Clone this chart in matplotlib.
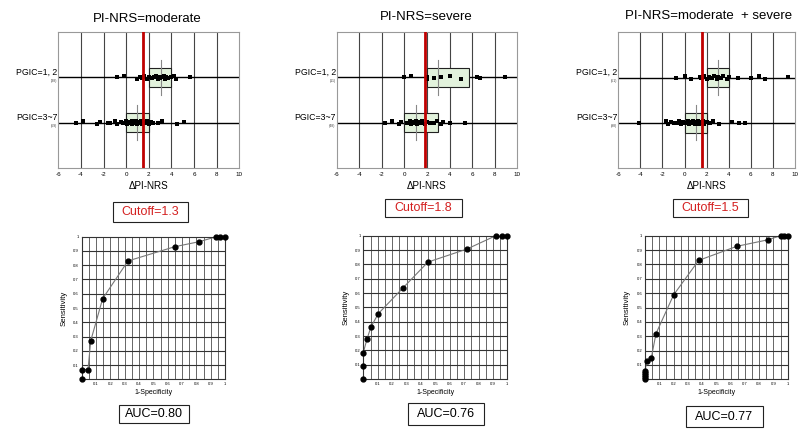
import numpy as np
import matplotlib
matplotlib.use("Agg")
import matplotlib.pyplot as plt
from matplotlib.patches import Rectangle

plt.rcParams["font.family"] = ["Liberation Sans", "DejaVu Sans"]
plt.rcParams["axes.unicode_minus"] = False

# =========================
# Data
# =========================
titles = ["PI-NRS=moderate", "PI-NRS=severe", "PI-NRS=moderate  + severe"]
cutoff_text = ["Cutoff=1.3", "Cutoff=1.8", "Cutoff=1.5"]
cutoff_line = [1.45, 1.82, 1.55]
auc_text = ["AUC=0.80", "AUC=0.76", "AUC=0.77"]
row_labels = ["PGIC=1, 2", "PGIC=3~7"]
row_counts = [["(38)", "(59)"], ["(11)", "(48)"], ["(51)", "(98)"]]

# ΔPI-NRS values per group (PGIC=1,2 / PGIC=3~7)
good_vals = [
    [-0.8, -0.2, 1.0, 1.2, 1.4, 1.5, 1.6, 1.8, 2.0, 2.3, 2.5, 2.6, 2.8, 3.0,
     3.0, 3.2, 3.3, 3.4, 3.5, 3.7, 4.0, 4.2, 4.4, 5.6],
    [0.0, 0.6, 2.0, 2.0, 2.6, 3.2, 4.0, 5.0, 6.4, 6.7, 8.9],
    [-0.8, 0.0, 0.6, 1.4, 1.5, 1.6, 1.8, 2.0, 2.2, 2.4, 2.5, 2.7, 2.9, 3.0,
     3.1, 3.3, 3.5, 3.8, 4.0, 4.8, 6.0, 6.7, 7.3, 9.4],
]
poor_vals = [
    [-4.4, -3.8, -2.6, -2.3, -1.6, -1.4, -1.0, -0.8, -0.5, -0.3, -0.2, 0.0,
     0.1, 0.2, 0.3, 0.4, 0.5, 0.5, 0.6, 0.7, 0.8, 0.9, 1.0, 1.0, 1.1, 1.2,
     1.3, 1.4, 1.5, 1.6, 1.7, 1.8, 2.0, 2.2, 2.4, 2.8, 3.2, 4.5, 5.1],
    [-1.7, -1.1, -0.5, -0.3, 0.2, 0.4, 0.5, 0.6, 0.7, 0.8, 0.9, 1.0, 1.1,
     1.2, 1.3, 1.5, 1.6, 1.8, 2.0, 2.3, 2.6, 2.9, 3.2, 3.4, 4.0, 5.4],
    [-4.1, -1.7, -1.5, -1.2, -1.0, -0.7, -0.5, -0.3, -0.1, 0.0, 0.1, 0.3,
     0.4, 0.5, 0.6, 0.7, 0.8, 0.9, 1.0, 1.0, 1.1, 1.2, 1.3, 1.4, 1.5, 1.6,
     1.7, 1.8, 2.0, 2.2, 2.3, 2.6, 3.1, 4.3, 4.9, 5.5],
]
# boxes (low, high) and centre line per group
good_box = [(2.0, 4.0), (2.0, 5.75), (2.05, 4.0)]
good_mid = [3.05, 3.0, 3.05]
poor_box = [(0.0, 2.0), (0.0, 3.0), (0.0, 2.05)]
poor_mid = [1.0, 1.0, 1.05]

# ROC curves (1-specificity, sensitivity)
roc_x = [
    [0, 0, 0.044, 0.063, 0.146, 0.323, 0.65, 0.82, 0.94, 0.965, 1.0],
    [0, 0, 0, 0.025, 0.053, 0.104, 0.275, 0.449, 0.72, 0.92, 0.965, 1.0],
    [0, 0, 0, 0, 0, 0.012, 0.044, 0.077, 0.2, 0.376, 0.643, 0.864, 0.95,
     0.974, 1.0],
]
roc_y = [
    [0, 0.068, 0.068, 0.27, 0.565, 0.83, 0.93, 0.965, 1, 1, 1],
    [0, 0.093, 0.184, 0.277, 0.363, 0.456, 0.635, 0.816, 0.907, 1, 1, 1],
    [0, 0.014, 0.03, 0.046, 0.06, 0.125, 0.148, 0.318, 0.587, 0.828, 0.926,
     0.972, 1, 1, 1],
]

# =========================
# Layout (pixel boxes: left, top, right, bottom)
# =========================
W, H = 801, 429
top_boxes = [(58.3, 32.3, 239.3, 167.7), (336.7, 32.3, 517.3, 167.7),
             (618.3, 32.3, 795.0, 168.0)]
roc_boxes = [(81.7, 236.7, 225.0, 379.3), (363.3, 235.7, 507.3, 379.0),
             (645.0, 235.7, 787.7, 379.3)]
title_pos = [(147, 19), (426, 17), (709, 16)]
cutoff_rects = [(113, 202, 188, 222), (385, 199, 462, 217), (673, 199, 748, 217)]
auc_rects = [(119, 405, 189, 423), (408, 403, 484, 425), (686, 406, 763, 427)]


def rect(l, t, r, b):
    return [l / W, 1 - b / H, (r - l) / W, (b - t) / H]


def fig_box(fig, l, t, r, b, text, color, size):
    fig.add_artist(Rectangle((l / W, 1 - b / H), (r - l) / W, (b - t) / H,
                             transform=fig.transFigure, facecolor="white",
                             edgecolor="#222222", linewidth=0.8))
    fig.text((l + r) / 2 / W, 1 - (t + b) / 2 / H, text, color=color,
             fontsize=size, ha="center", va="center")


fig = plt.figure(figsize=(W / 100, H / 100), dpi=100)
jitter = [0.0, 0.03, -0.03, 0.015, -0.015]

for i in range(3):
    ax = fig.add_axes(rect(*top_boxes[i]))
    ax.set_xlim(-6, 10)
    ax.set_ylim(0, 3)
    for gx in range(-4, 10, 2):
        ax.axvline(gx, color="#444444", lw=0.8, zorder=1)
    for row in (1, 2):
        ax.axhline(row, color="black", lw=1.0, zorder=2)

    for vals, (lo, hi), mid, row in [(good_vals[i], good_box[i], good_mid[i], 2),
                                     (poor_vals[i], poor_box[i], poor_mid[i], 1)]:
        ax.add_patch(Rectangle((lo, row - 0.22), hi - lo, 0.44,
                               facecolor="#e2f2dc", edgecolor="#222222",
                               lw=0.8, zorder=3))
        ax.plot([mid, mid], [row - 0.39, row + 0.39], color="#888888",
                lw=0.8, zorder=4)
        offs = [row + jitter[k % len(jitter)] for k in range(len(vals))]
        ax.scatter(vals, offs, s=5, marker="s", color="black", lw=0,
                   zorder=5)

    ax.axvline(cutoff_line[i], color="#c00000", lw=2.0, zorder=6)
    ax.set_xticks(range(-6, 11, 2))
    ax.tick_params(axis="x", length=0, labelsize=4.5, pad=3)
    ax.set_yticks([])
    for s in ax.spines.values():
        s.set_color("#999999")
        s.set_linewidth(0.8)
    ax.set_xlabel("ΔPI-NRS", fontsize=7.1, labelpad=3)

    for row, lab, cnt in [(2, row_labels[0], row_counts[i][0]),
                          (1, row_labels[1], row_counts[i][1])]:
        ax.text(-6.05, row + 0.02, lab, fontsize=6.3, ha="right",
                va="bottom", clip_on=False)
        ax.text(-6.1, row - 0.03, cnt, fontsize=2.5, ha="right", va="top",
                color="#444444", clip_on=False)

    fig.text(title_pos[i][0] / W, 1 - title_pos[i][1] / H, titles[i],
             fontsize=9.5, ha="center", va="center")
    fig_box(fig, *cutoff_rects[i], cutoff_text[i], "#d42020", 9)

    # ROC
    rx = fig.add_axes(rect(*roc_boxes[i]))
    rx.set_xlim(0, 1)
    rx.set_ylim(0, 1)
    for gx in np.arange(0.05, 1.0, 0.05):
        rx.axvline(gx, color="#666666", lw=0.7, zorder=1)
    for gy in np.arange(0.1, 1.0, 0.1):
        rx.axhline(gy, color="#333333", lw=0.8, zorder=1)
    rx.plot(roc_x[i], roc_y[i], color="#777777", lw=0.8, zorder=2)
    rx.plot(roc_x[i], roc_y[i], "o", color="black", ms=3.5, zorder=3,
            clip_on=False)
    ticks = np.round(np.arange(0.1, 1.01, 0.1), 1)
    labs = ["%g" % t for t in ticks]
    rx.set_xticks(ticks)
    rx.set_xticklabels(labs)
    rx.set_yticks(ticks)
    rx.set_yticklabels(labs)
    rx.tick_params(length=0, labelsize=3, pad=2)
    for s in rx.spines.values():
        s.set_color("#333333")
        s.set_linewidth(0.8)
    rx.set_xlabel("1-Specificity", fontsize=5, labelpad=2)
    rx.set_ylabel("Sensitivity", fontsize=5.6, labelpad=4)
    fig_box(fig, *auc_rects[i], auc_text[i], "black", 9)

fig.savefig("out.png", dpi=100)
